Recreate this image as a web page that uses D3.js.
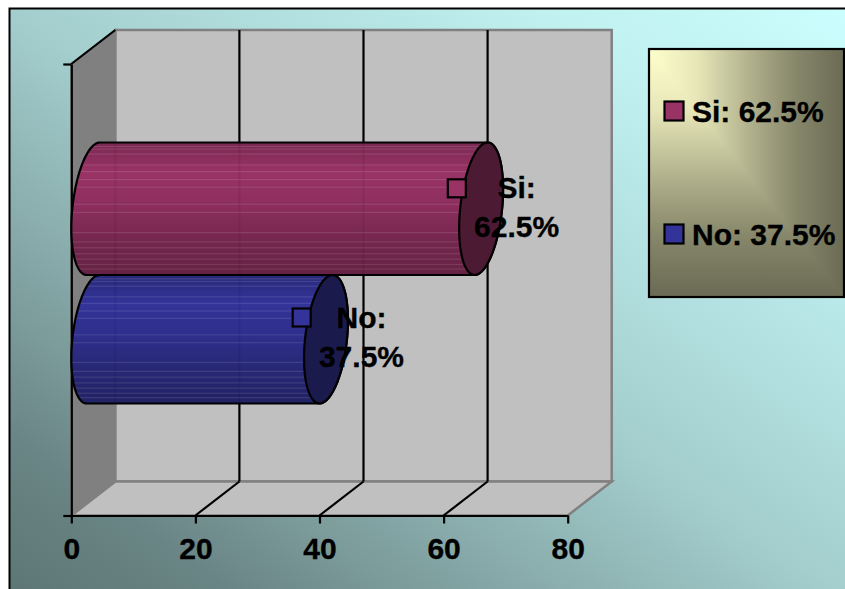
<!DOCTYPE html>
<html>
<head>
<meta charset="utf-8">
<title>Si / No</title>
<script src="https://cdn.jsdelivr.net/npm/d3@7"></script>
<style>
  html, body { margin: 0; padding: 0; background: #fff; overflow: hidden; }
  svg { display: block; }
  text { font-family: "Liberation Sans", Arial, sans-serif; font-weight: bold; fill: #000; stroke: #000; stroke-width: 0.35px; }
</style>
</head>
<body>
<svg id="chart" width="845" height="589"></svg>
<script>
// Survey answers
const categories = ["Si", "No"];
const values = [62.5, 37.5];
const axisTicks = [0, 20, 40, 60, 80];
const seriesColors = ["#993366", "#333399"];

const W = 845, H = 589;
const svg = d3.select("#chart");
const defs = svg.append("defs");

// Oblique projection of the box
const depth = { dx: 44, dy: -34 };
const front = { left: 71.3, right: 567.7, top: 64, bottom: 515.5 };
const fontSize = 30;

const x = d3.scaleLinear().domain([0, 80]).range([front.left, front.right]);
const yTop = d3.scaleOrdinal().domain(categories).range([142.5, 275]);
const yBottom = d3.scaleOrdinal().domain(categories).range([275, 403.5]);
const yAxisScale = d3.scaleLinear().domain([0, 1]).range([front.bottom, front.top]);

// Chart area background
const bg = defs.append("linearGradient").attr("id", "bg")
  .attr("x1", 1).attr("y1", 0).attr("x2", 0).attr("y2", 1);
[[0, "#ccffff"], [0.2, "#c0f0f0"], [0.5, "#a4cece"], [0.75, "#7c9b9b"], [0.85, "#6a8585"], [1, "#5b7373"]]
  .forEach(([o, c]) => bg.append("stop").attr("offset", o).attr("stop-color", c));

svg.append("rect").attr("x", 9.5).attr("y", 8.5).attr("width", W + 20).attr("height", H + 20)
  .attr("fill", "url(#bg)").attr("stroke", "#000").attr("stroke-width", 2);

// Walls and floor
const wall = svg.append("g");
const poly = pts => pts.map(p => p.join(",")).join(" ");
const bx = v => x(v) + depth.dx;
const backTop = front.top + depth.dy, backBottom = front.bottom + depth.dy;

wall.append("polygon")
  .attr("points", poly([[bx(0), backTop], [bx(80), backTop], [bx(80), backBottom], [bx(0), backBottom]]))
  .attr("fill", "#c0c0c0").attr("stroke", "#808080").attr("stroke-width", 2.5);
wall.append("polygon")
  .attr("points", poly([[x(0), front.bottom], [x(80), front.bottom], [bx(80), backBottom], [bx(0), backBottom]]))
  .attr("fill", "#c0c0c0").attr("stroke", "#808080").attr("stroke-width", 2.5);
wall.append("polygon")
  .attr("points", poly([[x(0), front.top], [bx(0), backTop], [bx(0), backBottom], [x(0), front.bottom]]))
  .attr("fill", "#808080").attr("stroke", "#808080").attr("stroke-width", 2);

// Gridlines on the back wall and their continuation over the floor
const inner = axisTicks.slice(1, -1);
wall.selectAll(".grid").data(inner).join("line").attr("class", "grid")
  .attr("x1", bx).attr("x2", bx).attr("y1", backTop).attr("y2", backBottom)
  .attr("stroke", "#000").attr("stroke-width", 2.2);
wall.selectAll(".floor").data(inner).join("line").attr("class", "floor")
  .attr("x1", x).attr("x2", bx).attr("y1", front.bottom).attr("y2", backBottom)
  .attr("stroke", "#000").attr("stroke-width", 2.2);
wall.append("line")
  .attr("x1", x(0)).attr("y1", front.top).attr("x2", bx(0)).attr("y2", backTop)
  .attr("stroke", "#000").attr("stroke-width", 2.2);

// Axes
const axisX = svg.append("g").attr("transform", `translate(0,${front.bottom})`)
  .call(d3.axisBottom(x).tickValues(axisTicks).tickSize(8).tickSizeOuter(0));
axisX.selectAll("line,path").attr("stroke", "#000").attr("stroke-width", 2.2);
axisX.selectAll("text").attr("font-size", fontSize).attr("y", 43.5).attr("dy", null);
axisX.attr("font-family", null).attr("font-size", null);

const axisY = svg.append("g").attr("transform", `translate(${front.left},0)`)
  .call(d3.axisLeft(yAxisScale).tickValues([0, 1]).tickSize(8).tickSizeOuter(0).tickFormat(""));
axisY.selectAll("line,path").attr("stroke", "#000").attr("stroke-width", 2.2);

// Cylinders
const capRx = 21, capShear = 6.5;
const seams = [0.03, 0.05, 0.087, 0.17, 0.22, 0.28, 0.337, 0.466, 0.527, 0.68, 0.75, 0.795, 0.84, 0.88, 0.92, 0.955];
const outline = d3.line();

function capPoints(cx, cy, ry, from, to) {
  return d3.range(0, 61).map(i => {
    const t = from + (to - from) * i / 60;
    return [cx + capRx * Math.cos(t) - capShear * Math.sin(t), cy + ry * Math.sin(t)];
  });
}

function drawCylinder(cat, i) {
  const v = values[i], color = d3.color(seriesColors[i]);
  const top = yTop(cat), height = yBottom(cat) - top, ry = height / 2, cy = top + ry;
  const startX = x(0) + depth.dx / 2, endX = x(v) + depth.dx / 2;
  const g = svg.append("g");

  const grad = defs.append("linearGradient").attr("id", `body${i}`)
    .attr("x1", 0).attr("y1", 0).attr("x2", 0).attr("y2", 1);
  [[0, 0.8], [0.22, 1], [0.45, 0.93], [0.75, 0.76], [1, 0.66]].forEach(([o, k]) =>
    grad.append("stop").attr("offset", o)
      .attr("stop-color", d3.rgb(color.r * k, color.g * k, color.b * k)));

  // Near cap (left half), straight sides, then the far end
  const body = outline(
    capPoints(startX, cy, ry, -Math.PI / 2, -3 * Math.PI / 2)
      .concat(capPoints(endX, cy, ry, Math.PI / 2, -Math.PI / 2))
  ) + "Z";

  const clipId = `clip${i}`;
  defs.append("clipPath").attr("id", clipId).append("path").attr("d", body);

  g.append("path").attr("d", body).attr("fill", `url(#body${i})`);

  // Shading seams and the wall lines showing faintly through the cylinder
  const seamLayer = g.append("g").attr("clip-path", `url(#${clipId})`);
  seamLayer.selectAll(".seam").data(seams).join("line").attr("class", "seam")
    .attr("x1", startX - 30).attr("x2", endX + 30)
    .attr("y1", d => top + d * height).attr("y2", d => top + d * height)
    .attr("stroke", "#fff").attr("stroke-opacity", 0.13).attr("stroke-width", 1);
  seamLayer.selectAll(".ghost").data(axisTicks.slice(0, -1)).join("line").attr("class", "ghost")
    .attr("x1", bx).attr("x2", bx).attr("y1", top).attr("y2", top + height)
    .attr("stroke", "#000").attr("stroke-opacity", 0.07).attr("stroke-width", 2);

  g.append("path").attr("d", body).attr("fill", "none").attr("stroke", "#000").attr("stroke-width", 2.2);

  // Far end, in the series colour at half brightness
  g.append("path").attr("d", outline(capPoints(endX, cy, ry, 0, 2 * Math.PI)) + "Z")
    .attr("fill", d3.rgb(color.r / 2, color.g / 2, color.b / 2))
    .attr("stroke", "#000").attr("stroke-width", 2.2);
}

["No", "Si"].forEach(c => drawCylinder(c, categories.indexOf(c)));

// Value markers and data labels
categories.forEach((cat, i) => {
  const v = values[i], top = yTop(cat);
  const mx = x(v) - 2.3, my = top + (i === 0 ? 45.8 : 42.5);
  svg.append("rect").attr("x", mx - 9).attr("y", my - 9).attr("width", 18).attr("height", 18)
    .attr("fill", seriesColors[i]).attr("stroke", "#000").attr("stroke-width", 2.2);
  const lx = x(v) + 57.5;
  svg.append("text").attr("x", lx).attr("y", my + 10)
    .attr("text-anchor", "middle").attr("font-size", fontSize).text(`${cat}:`);
  svg.append("text").attr("x", lx).attr("y", my + 49)
    .attr("text-anchor", "middle").attr("font-size", fontSize).text(`${v.toFixed(1)}%`);
});

// Legend
const lg = { x: 649, y: 49, w: 195, h: 248 };
const legend = svg.append("g").attr("transform", `translate(${lg.x},${lg.y})`);
const legendStops = [[0, "#ffffcc"], [0.25, "#e6e6b8"], [0.5, "#b4b48f"], [0.75, "#87876b"], [1, "#6b6b55"]];
const gH = defs.append("linearGradient").attr("id", "lgH").attr("x1", 0).attr("y1", 0).attr("x2", 1).attr("y2", 0);
const gV = defs.append("linearGradient").attr("id", "lgV").attr("x1", 0).attr("y1", 0).attr("x2", 0).attr("y2", 1);
legendStops.forEach(([o, c]) => {
  gH.append("stop").attr("offset", o).attr("stop-color", c);
  gV.append("stop").attr("offset", o).attr("stop-color", c);
});
// The fill darkens towards the right and bottom edges, meeting along the diagonal
legend.append("rect").attr("width", lg.w).attr("height", lg.h).attr("fill", "url(#lgH)");
defs.append("clipPath").attr("id", "lgLower").append("polygon")
  .attr("points", poly([[0, 0], [lg.w, lg.h], [0, lg.h]]));
legend.append("rect").attr("width", lg.w).attr("height", lg.h).attr("fill", "url(#lgV)")
  .attr("clip-path", "url(#lgLower)");
legend.append("rect").attr("width", lg.w).attr("height", lg.h)
  .attr("fill", "none").attr("stroke", "#000").attr("stroke-width", 2.2);

const legendY = d3.scalePoint().domain(categories).range([62.5, 185.5]);
categories.forEach((cat, i) => {
  legend.append("rect").attr("x", 15.5).attr("y", legendY(cat) - 10).attr("width", 19).attr("height", 19)
    .attr("fill", seriesColors[i]).attr("stroke", "#000").attr("stroke-width", 2.2);
  legend.append("text").attr("x", 43).attr("y", legendY(cat) + 10).attr("font-size", fontSize)
    .text(`${cat}: ${values[i].toFixed(1)}%`);
});
</script>
</body>
</html>
